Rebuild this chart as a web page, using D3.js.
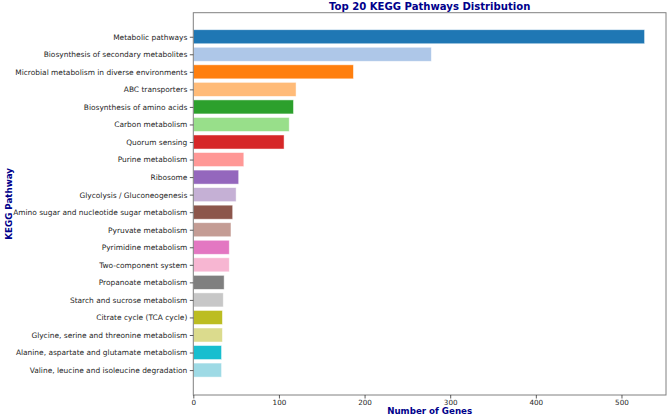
<!DOCTYPE html>
<html>
<head>
<meta charset="utf-8">
<title>Top 20 KEGG Pathways Distribution</title>
<style>
  body { margin: 0; background: #fff; }
  svg { display: block; font-family: "DejaVu Sans", sans-serif; }
</style>
</head>
<body>
<main></main>
<script src="https://cdn.jsdelivr.net/npm/d3@7"></script>
<script>
// pathway names, top to bottom
var pathways = [
  "Metabolic pathways",
  "Biosynthesis of secondary metabolites",
  "Microbial metabolism in diverse environments",
  "ABC transporters",
  "Biosynthesis of amino acids",
  "Carbon metabolism",
  "Quorum sensing",
  "Purine metabolism",
  "Ribosome",
  "Glycolysis / Gluconeogenesis",
  "Amino sugar and nucleotide sugar metabolism",
  "Pyruvate metabolism",
  "Pyrimidine metabolism",
  "Two-component system",
  "Propanoate metabolism",
  "Starch and sucrose metabolism",
  "Citrate cycle (TCA cycle)",
  "Glycine, serine and threonine metabolism",
  "Alanine, aspartate and glutamate metabolism",
  "Valine, leucine and isoleucine degradation"
];
// gene counts
var geneCounts = [527, 278, 187, 120, 117, 112, 106, 59, 53, 50, 46, 44, 42, 42, 36, 35, 34, 34, 33, 33];
var xTicks = [0, 100, 200, 300, 400, 500];

// tab20 palette
var palette = ["#1f77b4", "#aec7e8", "#ff7f0e", "#ffbb78", "#2ca02c", "#98df8a", "#d62728", "#ff9896",
  "#9467bd", "#c5b0d5", "#8c564b", "#c49c94", "#e377c2", "#f7b6d2", "#7f7f7f", "#c7c7c7",
  "#bcbd22", "#dbdb8d", "#17becf", "#9edae5"];

var width = 669, height = 416;
var plot = {left: 193.3, right: 666, top: 12.7, bottom: 395};

var svg = d3.select("main").append("svg")
  .attr("width", width)
  .attr("height", height);

var x = d3.scaleLinear()
  .domain([0, 552])
  .range([plot.left, plot.right]);

// bar centers: index -> y
var y = d3.scaleLinear()
  .domain([-1.37, 20.42])
  .range([plot.top, plot.bottom]);

var barH = 0.8 * (y(1) - y(0));

svg.selectAll("rect.bar")
  .data(geneCounts)
  .enter()
  .append("rect")
  .attr("class", "bar")
  .attr("x", x(0))
  .attr("y", function (d, i) { return y(i) - barH / 2; })
  .attr("width", function (d) { return x(d) - x(0); })
  .attr("height", barH)
  .attr("fill", function (d, i) { return palette[i]; })
  .attr("stroke", "#fff")
  .attr("stroke-opacity", 0.6)
  .attr("stroke-width", 0.8);

// frame
svg.append("rect")
  .attr("x", plot.left)
  .attr("y", plot.top)
  .attr("width", plot.right - plot.left)
  .attr("height", plot.bottom - plot.top)
  .attr("fill", "none")
  .attr("stroke", "#808080")
  .attr("stroke-width", 1);

// x axis
var xAxis = d3.axisBottom(x)
  .tickValues(xTicks)
  .tickSize(3.5)
  .tickPadding(1.5);
var gx = svg.append("g")
  .attr("transform", "translate(0," + plot.bottom + ")")
  .call(xAxis);
gx.select(".domain").remove();
gx.selectAll("line").attr("stroke", "#333").attr("stroke-width", 0.8);
gx.selectAll("text").attr("font-size", "7.2px").attr("fill", "#262626")
  .attr("font-family", "DejaVu Sans, sans-serif");

// y axis
var yAxis = d3.axisLeft(y)
  .tickValues(d3.range(pathways.length))
  .tickFormat(function (i) { return pathways[i]; })
  .tickSize(3.5)
  .tickPadding(2.5);
var gy = svg.append("g")
  .attr("transform", "translate(" + plot.left + ",0)")
  .call(yAxis);
gy.select(".domain").remove();
gy.selectAll("line").attr("stroke", "#333").attr("stroke-width", 0.8);
gy.selectAll("text").attr("font-size", "7.45px").attr("fill", "#262626")
  .attr("font-family", "DejaVu Sans, sans-serif");

// title
svg.append("text")
  .attr("x", (plot.left + plot.right) / 2)
  .attr("y", 9.5)
  .attr("text-anchor", "middle")
  .attr("font-size", "10.1px")
  .attr("font-weight", "bold")
  .attr("fill", "#00008b")
  .text("Top 20 KEGG Pathways Distribution");

// axis labels
svg.append("text")
  .attr("x", (plot.left + plot.right) / 2)
  .attr("y", 414)
  .attr("text-anchor", "middle")
  .attr("font-size", "8.7px")
  .attr("font-weight", "bold")
  .attr("fill", "#00008b")
  .text("Number of Genes");

svg.append("text")
  .attr("transform", "translate(11.5," + ((plot.top + plot.bottom) / 2) + ") rotate(-90)")
  .attr("text-anchor", "middle")
  .attr("font-size", "8.7px")
  .attr("font-weight", "bold")
  .attr("fill", "#00008b")
  .text("KEGG Pathway");
</script>
</body>
</html>
